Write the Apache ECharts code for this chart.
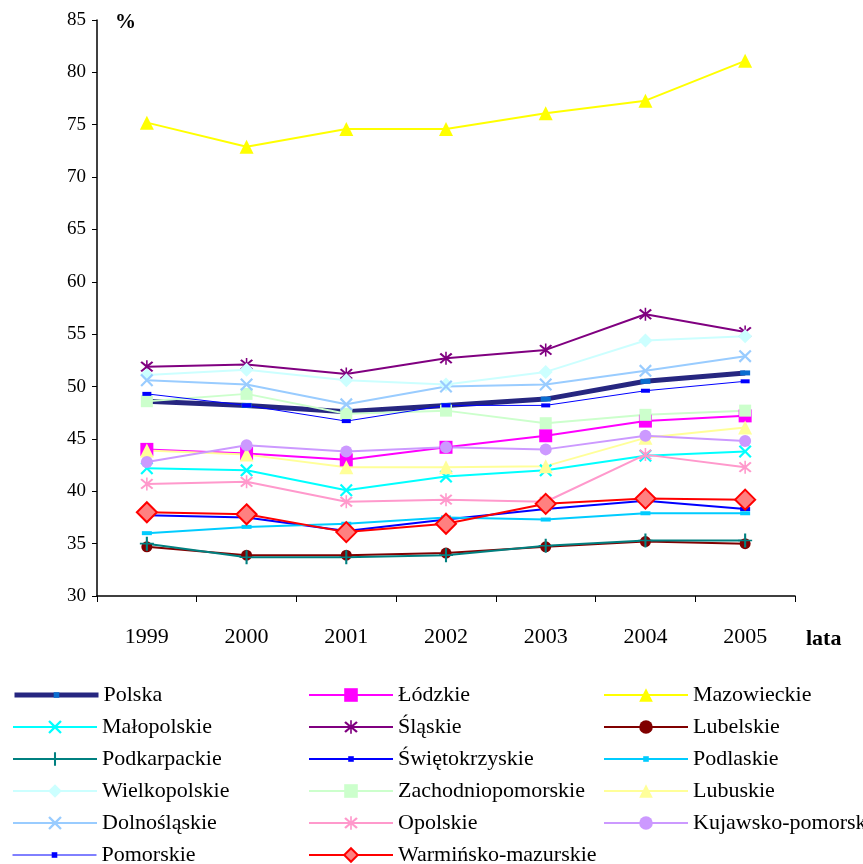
<!DOCTYPE html>
<html><head><meta charset="utf-8">
<script src="https://cdn.jsdelivr.net/npm/echarts@6/dist/echarts.min.js"></script>
<style>html,body{margin:0;padding:0;background:#fff}#c{width:863px;height:864px}</style>
</head><body><div id="c"></div>
<script>
const years = ['1999','2000','2001','2002','2003','2004','2005'];
const yTicks = [30,35,40,45,50,55,60,65,70,75,80,85];

const polska = [48.6, 48.2, 47.6, 48.2, 48.8, 50.5, 51.3];
const lodzkie = [44.0, 43.6, 43.0, 44.2, 45.3, 46.7, 47.2];
const mazowieckie = [75.2, 72.9, 74.6, 74.6, 76.1, 77.3, 81.1];
const malopolskie = [42.2, 42.0, 40.1, 41.4, 42.0, 43.4, 43.8];
const slaskie = [51.9, 52.1, 51.2, 52.7, 53.5, 56.9, 55.2];
const lubelskie = [34.7, 33.9, 33.9, 34.1, 34.7, 35.2, 35.0];
const podkarpackie = [35.0, 33.7, 33.7, 33.9, 34.8, 35.3, 35.3];
const swietokrzyskie = [37.7, 37.5, 36.2, 37.3, 38.3, 39.1, 38.3];
const podlaskie = [36.0, 36.6, 36.9, 37.5, 37.3, 37.9, 37.9];
const wielkopolskie = [51.1, 51.6, 50.6, 50.2, 51.4, 54.4, 54.8];
const zachodniopomorskie = [48.6, 49.3, 47.4, 47.7, 46.5, 47.3, 47.7];
const lubuskie = [43.9, 43.5, 42.3, 42.3, 42.4, 45.1, 46.1];
const dolnoslaskie = [50.6, 50.2, 48.3, 50.0, 50.2, 51.5, 52.9];
const opolskie = [40.7, 40.9, 39.0, 39.2, 39.0, 43.5, 42.3];
const kujawskopomorskie = [42.8, 44.4, 43.8, 44.2, 44.0, 45.3, 44.8];
const pomorskie = [49.3, 48.2, 46.7, 48.2, 48.2, 49.6, 50.5];
const warminskomazurskie = [38.0, 37.8, 36.1, 36.9, 38.8, 39.3, 39.2];

const X = 'path://M0,1.2L1.2,0L5,3.8L8.8,0L10,1.2L6.2,5L10,8.8L8.8,10L5,6.2L1.2,10L0,8.8L3.8,5Z';
const STAR = 'path://M0,1.2L1.2,0L5,3.8L8.8,0L10,1.2L6.2,5L10,8.8L8.8,10L5,6.2L1.2,10L0,8.8L3.8,5ZM4.4,-1L5.6,-1L5.6,11L4.4,11Z';
const PLUS = 'path://M4.4,0L5.6,0L5.6,4.4L9,4.4L9,5.6L5.6,5.6L5.6,10L4.4,10L4.4,5.6L1,5.6L1,4.4L4.4,4.4Z';

const styleByName = {};
function s(name, data, color, symbol, size, opts) {
  opts = opts || {};
  const ls = { color: opts.lineColor || color, width: opts.width || 2 };
  const is = { color: color, borderColor: opts.border || color, borderWidth: opts.borderWidth || 0 };
  styleByName[name] = { ls: ls, is: is, small: Array.isArray(size) };
  return {
    name: name, type: 'line', data: data, symbol: symbol, symbolSize: size,
    showAllSymbol: true, lineStyle: ls, itemStyle: is,
    emphasis: { disabled: true }, z: opts.z || 2
  };
}

const series = [
  s('Polska', polska, '#0a6ed0', 'rect', [10,5], { lineColor: '#262680', width: 5 }),
  s('Łódzkie', lodzkie, '#ff00ff', 'rect', 13),
  s('Mazowieckie', mazowieckie, '#ffff00', 'triangle', 14),
  s('Małopolskie', malopolskie, '#00ffff', X, 13),
  s('Śląskie', slaskie, '#800080', STAR, 13),
  s('Lubelskie', lubelskie, '#800000', 'circle', 11),
  s('Podkarpackie', podkarpackie, '#008080', PLUS, 14),
  s('Świętokrzyskie', swietokrzyskie, '#0000ff', 'rect', [10,4]),
  s('Podlaskie', podlaskie, '#00ccff', 'rect', [10,4]),
  s('Wielkopolskie', wielkopolskie, '#ccffff', 'diamond', 14),
  s('Zachodniopomorskie', zachodniopomorskie, '#ccffcc', 'rect', 12),
  s('Lubuskie', lubuskie, '#ffff99', 'triangle', 14),
  s('Dolnośląskie', dolnoslaskie, '#99ccff', X, 13),
  s('Opolskie', opolskie, '#ff99cc', STAR, 13),
  s('Kujawsko-pomorskie', kujawskopomorskie, '#cc99ff', 'circle', 12),
  s('Pomorskie', pomorskie, '#0000ff', 'rect', [9,4], { width: 1 }),
  s('Warmińsko-mazurskie', warminskomazurskie, '#ff8080', 'diamond', 20, { lineColor: '#ff0000', border: '#ff0000', borderWidth: 2, z: 3 })
];

const col1 = ['Polska','Małopolskie','Podkarpackie','Wielkopolskie','Dolnośląskie','Pomorskie'];
const col2 = ['Łódzkie','Śląskie','Świętokrzyskie','Zachodniopomorskie','Opolskie','Warmińsko-mazurskie'];
const col3 = ['Mazowieckie','Lubelskie','Podlaskie','Lubuskie','Kujawsko-pomorskie'];

const FONT = 'Liberation Serif';
function lg(name, left, top) {
  const st = styleByName[name];
  return {
    data: [{ name: name, itemStyle: st.is }], orient: 'horizontal', left: left, top: top, padding: 0,
    itemWidth: 84, itemHeight: st.small ? 7 : 17, selectedMode: false,
    itemStyle: { color: st.is.color, borderColor: st.is.borderColor, borderWidth: st.is.borderWidth },
    lineStyle: { color: st.ls.color, width: st.ls.width },
    textStyle: { fontFamily: FONT, fontSize: 22, color: '#000', padding: [0,0,0,0] }
  };
}
const legends = [];
[[col1, 12], [col2, 308], [col3, 603]].forEach(function (c) {
  c[0].forEach(function (n, i) { legends.push(lg(n, c[1], 684 + i * 32)); });
});

const chart = echarts.init(document.getElementById('c'), null, { renderer: 'canvas' });
chart.setOption({
  animation: false,
  backgroundColor: '#fff',
  grid: { left: 97, right: 68, top: 20, bottom: 268, containLabel: false },
  xAxis: {
    type: 'category', data: years, boundaryGap: true,
    axisLine: { lineStyle: { color: '#000', width: 1.5 } },
    axisTick: { show: true, alignWithLabel: false, length: 6, inside: false, lineStyle: { color: '#000' } },
    axisLabel: { fontFamily: FONT, fontSize: 22, color: '#000', margin: 30 }
  },
  yAxis: {
    type: 'value', min: yTicks[0], max: yTicks[yTicks.length-1], interval: 5,
    axisLine: { show: true, lineStyle: { color: '#000', width: 1.5 } },
    axisTick: { show: true, length: 5, lineStyle: { color: '#000' } },
    splitLine: { show: false },
    axisLabel: { fontFamily: FONT, fontSize: 19, color: '#000', margin: 11 }
  },
  legend: legends,
  graphic: [
    { type: 'text', left: 115, top: 12, style: { text: '%', font: 'bold 21px "Liberation Serif"', fill: '#000' } },
    { type: 'text', left: 806, top: 628, style: { text: 'lata', font: 'bold 22px "Liberation Serif"', fill: '#000' } }
  ],
  series: series
});
</script></body></html>
